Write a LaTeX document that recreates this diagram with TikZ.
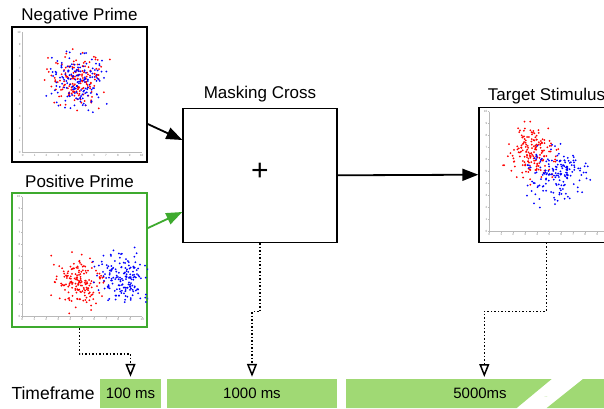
\documentclass[tikz,border=0pt]{standalone}
\usepackage{fontspec}
\setmainfont{Liberation Sans}
\usetikzlibrary{arrows.meta,positioning,calc}
\definecolor{primegreen}{RGB}{62,170,46}
\definecolor{barGreen}{RGB}{160,217,116}

\tikzset{
  panel/.style={draw, line width=1.4pt, minimum width=135pt, minimum height=135pt, inner sep=0pt},
  title/.style={font=\fontsize{17}{20}\selectfont, inner sep=0pt, anchor=base},
  flow/.style={line width=1.8pt, -{Triangle[length=16pt,width=12pt]}},
  timeline/.style={dotted, line width=1.5pt, -{Triangle[open,length=13pt,width=10pt,line width=1.5pt]}},
  bar/.style={fill=barGreen, inner sep=0pt, minimum height=29pt, font=\fontsize{15}{18}\selectfont},
  axis/.style={gray!55, line width=0.5pt},
  ticklbl/.style={font=\fontsize{3}{3}\selectfont, text=gray, inner sep=0.6pt}
}

\newcommand\plotaxes{%
  \draw[axis] (0,0) -- (10,0) (0,0) -- (0,10);
  \foreach \t in {0,...,10}{
    \draw[axis] (\t,0) -- (\t,-0.1) node[ticklbl,below] {\t};
    \draw[axis] (0,\t) -- (-0.1,\t) node[ticklbl,left] {\t};
  }}
\newcommand\dotcloud[5]{% mean x, mean y, spread, colour, count
  \foreach \k in {1,...,#5}{
    \pgfmathsetmacro\px{#1+#3*(rand+rand+rand)}
    \pgfmathsetmacro\py{#2+#3*(rand+rand+rand)}
    \fill[#4] (\px,\py) circle (1pt);
  }}

\begin{document}
\begin{tikzpicture}[x=1pt,y=1pt]
  \useasboundingbox (0,0) rectangle (604,408);
  \pgfmathsetseed{11}

  \node[panel] (neg) at (79.5,313.5) {};
  \node[panel, draw=primegreen, line width=2pt, minimum height=134pt] (pos) at (79.5,148) {};
  \node[panel, minimum width=154pt, minimum height=134pt] (mask) at (260,232.7) {};
  \node[panel] (target) at (546.5,233.3) {};

  \node[title] (negtitle) at ([yshift=5.3pt]neg.north) {Negative Prime};
  \node[title] (postitle) at ([yshift=4.7pt]pos.north) {Positive Prime};
  \node[title] (masktitle) at ([yshift=9.3pt]mask.north) {Masking Cross};
  \node[title] (targettitle) at ([yshift=5.6pt]target.north) {Target Stimulus};
  \node[font=\fontsize{30}{34}\selectfont, inner sep=0pt] (cross) at ([yshift=3pt]mask.center) {+};

  \begin{scope}
    \clip (neg.north west) rectangle (neg.south east);
    \begin{scope}[shift={(22.7pt,256pt)}, x=11.9pt, y=12pt]
      \plotaxes
      \dotcloud{4.5}{6.1}{1.05}{red}{160}
      \dotcloud{4.5}{6}{1.1}{blue}{160}
    \end{scope}
  \end{scope}
  \begin{scope}
    \clip (pos.north west) rectangle (pos.south east);
    \begin{scope}[shift={(22.3pt,91.3pt)}, x=12pt, y=12pt]
      \plotaxes
      \dotcloud{4.6}{2.9}{1.0}{red}{170}
      \dotcloud{8.4}{3.3}{1.0}{blue}{170}
    \end{scope}
  \end{scope}
  \begin{scope}
    \clip (target.north west) rectangle (target.south east);
    \begin{scope}[shift={(489.3pt,176.3pt)}, x=12pt, y=12pt]
      \plotaxes
      \dotcloud{3.5}{6.5}{1.05}{red}{170}
      \dotcloud{5.6}{4.7}{1.1}{blue}{170}
    \end{scope}
  \end{scope}

  \draw[flow] ([yshift=-29.5pt]neg.east) -- ([yshift=35.3pt]mask.west);
  \draw[flow, primegreen] ([yshift=32pt]pos.east) -- ([yshift=-36.7pt]mask.west);
  \draw[flow] (mask.east) -- (target.west);

  \node[font=\fontsize{17.5}{20}\selectfont, inner sep=0pt] (timeframe) at (53,15) {Timeframe};
  \node[bar, minimum width=61pt] (bar100) at (130.5,14.5) {100 ms};
  \node[bar, minimum width=170pt] (bar1000) at (252,14.5) {1000 ms};
  \fill[barGreen] (346,29) -- (551.7,29) -- (516.7,0) -- (346,0) -- cycle;
  \fill[barGreen] (583,29) -- (610,29) -- (610,0) -- (546.7,0) -- cycle;
  \node[font=\fontsize{15}{18}\selectfont, inner sep=0pt] (bar5000) at (480,15) {5000ms};
  \node[font=\fontsize{6}{6}\selectfont, text=barGreen, inner sep=0pt] (more) at (546,11) {..};
  \coordinate (slot5000) at (484.3,31);

  \draw[timeline] (pos.south) -- ++(0,-26) -| ([yshift=2pt]bar100.north);
  \draw[timeline] (mask.south) -- ++(0,-68.7) -| ([yshift=2pt]bar1000.north);
  \draw[timeline] (target.south) -- ++(0,-68.4) -| (slot5000);
\end{tikzpicture}
\end{document}
